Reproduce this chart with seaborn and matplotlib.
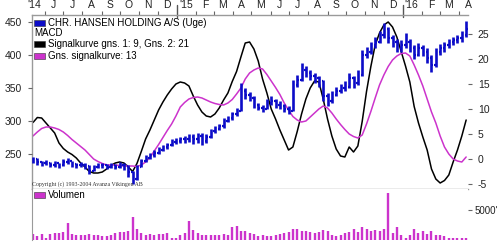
import numpy as np
import pandas as pd
import matplotlib
matplotlib.use("Agg")
import matplotlib.pyplot as plt
import matplotlib.transforms as mtransforms
from matplotlib.patches import Rectangle
import seaborn as sns

# ---------------- data (weekly) ----------------
start_date = "2014-05-13"
close = [242, 238, 236, 237, 234, 236, 233, 238, 240, 235,
         233, 234, 232, 225, 230, 234, 233, 231, 233, 231,
         234, 232, 222, 212, 230, 240, 244, 248, 252, 256,
         260, 263, 268, 270, 272, 273, 276, 272, 278, 270,
         276, 285, 288, 292, 300, 304, 310, 315, 345, 340,
         335, 325, 320, 318, 328, 330, 325, 322, 318, 315,
         355, 362, 378, 372, 368, 365, 360, 338, 330, 340,
         345, 350, 352, 365, 358, 370, 400, 405, 415, 420,
         430, 440, 425, 420, 410, 415, 420, 410, 400, 410,
         405, 395, 385, 405, 410, 415, 420, 422, 425, 430, 440]
low = [236, 234, 232, 233, 230, 231, 229, 232, 235, 231,
       229, 230, 228, 220, 224, 229, 229, 227, 229, 227,
       229, 226, 215, 205, 210, 230, 238, 242, 246, 250,
       254, 257, 262, 265, 266, 267, 268, 265, 266, 264,
       266, 274, 282, 286, 290, 298, 302, 308, 315, 334,
       330, 320, 316, 314, 318, 324, 320, 318, 314, 310,
       315, 352, 360, 366, 362, 358, 352, 330, 322, 328,
       338, 342, 346, 350, 350, 355, 368, 396, 402, 410,
       418, 425, 418, 412, 404, 405, 410, 404, 394, 398,
       398, 388, 375, 382, 400, 405, 410, 415, 418, 420, 428]
high = [246, 244, 240, 241, 238, 240, 237, 242, 244, 240,
        237, 238, 236, 233, 234, 237, 237, 235, 237, 235,
        238, 236, 233, 225, 234, 243, 248, 252, 256, 260,
        264, 267, 272, 274, 276, 277, 280, 280, 282, 282,
        280, 288, 292, 296, 304, 308, 314, 320, 358, 350,
        344, 338, 328, 324, 334, 338, 333, 330, 326, 322,
        362, 370, 388, 384, 378, 372, 368, 362, 342, 346,
        352, 356, 360, 372, 368, 378, 408, 412, 420, 428,
        436, 448, 442, 430, 424, 422, 433, 424, 415, 418,
        415, 410, 400, 410, 416, 420, 424, 428, 430, 436, 452]
macd = [7.3, 8.3, 8.2, 7.2, 6.2, 5.2, 3.2, 2.1, 1.4, 0.9,
        0.2, -0.8, -1.6, -2.5, -2.8, -2.8, -2.6, -2.0, -1.3, -0.8,
        -0.6, -0.8, -1.6, -2.5, -0.9, 1.5, 4.0, 5.8, 7.8, 9.8,
        11.4, 12.8, 14.0, 15.0, 15.4, 15.2, 14.6, 12.6, 10.8, 9.4,
        8.6, 8.4, 9.0, 10.2, 11.8, 13.2, 15.5, 17.5, 20.4, 23.2,
        23.4, 22.0, 19.6, 16.0, 13.2, 10.0, 8.0, 5.8, 3.8, 1.8,
        2.4, 5.5, 9.0, 12.0, 14.2, 15.6, 15.4, 12.0, 8.0, 4.6,
        2.0, 0.6, 0.4, 2.4, 1.4, 2.6, 7.5, 13.5, 18.5, 22.8,
        25.2, 26.8, 27.4, 26.4, 24.4, 21.5, 18.6, 15.4, 10.5, 7.2,
        4.4, 1.8, -2.0, -4.0, -4.8, -4.3, -3.2, -0.6, 1.8, 4.6, 7.8]
signal = [4.6, 5.4, 6.1, 6.4, 6.4, 6.2, 5.9, 5.4, 4.7, 3.9,
          3.2, 2.5, 1.8, 0.9, 0.0, -0.5, -0.9, -1.2, -1.2, -1.2,
          -1.3, -1.4, -1.4, -1.4, -1.5, -1.2, -0.6, 0.3, 1.6, 2.9,
          4.3, 5.7, 7.0, 8.6, 10.4, 11.3, 12.0, 12.3, 12.4, 12.2,
          11.8, 11.4, 11.1, 10.9, 10.8, 11.2, 11.9, 13.0, 14.2, 16.0,
          17.2, 17.8, 18.2, 18.0, 16.9, 15.6, 14.3, 12.9, 11.2, 9.8,
          8.5, 7.8, 7.4, 7.6, 8.4, 9.2, 10.0, 10.6, 10.2, 9.2,
          8.0, 6.9, 5.9, 5.0, 4.5, 4.2, 4.8, 7.0, 9.5, 12.2,
          14.8, 16.8, 18.5, 19.8, 20.6, 21.1, 21.2, 20.6, 18.8, 16.8,
          14.6, 12.0, 9.4, 7.2, 4.6, 2.4, 1.0, 0.0, -0.4, -0.6, 0.4]
volume = [1000, 600, 1000, 300, 1000, 1200, 1200, 1300, 2800, 1000,
          900, 800, 900, 1000, 800, 900, 600, 600, 900, 1200,
          1300, 1300, 1500, 3900, 1900, 1200, 900, 1000, 900, 1000,
          1000, 1200, 300, 300, 900, 1200, 3100, 1600, 1200, 900,
          900, 900, 900, 900, 1000, 900, 2100, 2400, 1500, 1500,
          1200, 1000, 600, 900, 600, 700, 900, 1000, 1200, 1300,
          1900, 1800, 1500, 1500, 1300, 1200, 1300, 1600, 1500, 900,
          600, 900, 1200, 1300, 1800, 1300, 2100, 1800, 1500, 1600,
          1500, 1800, 7900, 1200, 2100, 900, 300, 900, 1900, 1200,
          1500, 1000, 1500, 900, 800, 600, 400, 300, 300, 300, 300]
month_labels = ["'14", "J", "J", "A", "S", "O", "N", "D", "'15", "F", "M", "A",
                "M", "J", "J", "A", "S", "O", "N", "D", "'16", "F", "M", "A"]
price_ticks = [250, 300, 350, 400, 450]
macd_ticks = [-5, 0, 5, 10, 15, 20, 25]
legend_labels = ["CHR. HANSEN HOLDING A/S (Uge)", "MACD",
                 "Signalkurve gns. 1: 9, Gns. 2: 21", "Gns. signalkurve: 13"]

# ---------------- style ----------------
sns.set_style("white")
plt.rcParams["font.family"] = ["Liberation Sans", "DejaVu Sans"]

BLUE = "#0c0cc8"
MAG = "#cc33cc"
GRAY = "#9a9a9a"
TXT = "#222222"

dates = pd.date_range(start_date, periods=len(close), freq="7D")
df = pd.DataFrame({"date": dates, "close": close, "low": low, "high": high,
                   "macd": macd, "signal": signal, "volume": volume})

W, H = 500, 242
def frame(x0, y0, x1, y1):
    return [x0 / W, 1 - y1 / H, (x1 - x0) / W, (y1 - y0) / H]

fig = plt.figure(figsize=(W / 100, H / 100), dpi=100)
ax = fig.add_axes(frame(32, 15, 468, 189))      # MACD (right axis)
axp = ax.twinx()                                 # price (left axis)
axv = fig.add_axes(frame(32, 189, 468, 240), sharex=ax)

# MACD lines
sns.lineplot(data=df, x="date", y="macd", ax=ax, color="black", lw=1.1)
sns.lineplot(data=df, x="date", y="signal", ax=ax, color=MAG, lw=1.1)
ax.set_ylim(-6.0, 28.8)
ax.yaxis.tick_right()
ax.set_yticks(macd_ticks)
ax.set_yticklabels([str(t) for t in macd_ticks])
ax.set_xlabel("")
ax.set_ylabel("")

# price bars
tick = pd.Timedelta(days=2.4)
axp.vlines(df["date"], df["low"], df["high"], color=BLUE, lw=1.9)
axp.hlines(df["close"], df["date"], df["date"] + tick, color=BLUE, lw=1.6)
axp.hlines(df["close"].iloc[:-1].values, df["date"].iloc[1:] - tick,
           df["date"].iloc[1:], color=BLUE, lw=1.6)
axp.set_ylim(197, 460.6)
axp.yaxis.tick_left()
axp.set_yticks(price_ticks)
axp.set_yticklabels([str(t) for t in price_ticks])
axp.set_ylabel("")

ax.set_xlim(dates[0] - pd.Timedelta(days=1.6), dates[-1] + pd.Timedelta(days=1.6))

# month ticks along the top
ms = pd.date_range("2014-06-01", "2016-04-01", freq="MS")
ax.xaxis.tick_top()
ax.set_xticks([d for d in ms if d.month != 1])
ax.set_xticklabels([])
mids = pd.date_range("2014-05-01", "2016-04-01", freq="MS") + pd.Timedelta(days=14)
ax.set_xticks(mids, minor=True)
ax.set_xticklabels(month_labels, minor=True)
ax.tick_params(axis="x", which="major", length=3, width=0.8, color="#666666",
               direction="out")
ax.tick_params(axis="x", which="minor", length=0, pad=3.5, labelsize=7.5,
               labelcolor=TXT)
trans = mtransforms.blended_transform_factory(ax.transData, ax.transAxes)
for d in ["2015-01-01", "2016-01-01"]:
    ax.plot([pd.Timestamp(d)] * 2, [1 - 2 / 174, 1 + 10 / 174], transform=trans,
            color="#555555", lw=1.0, clip_on=False)

ax.tick_params(axis="y", length=3, width=0.8, color="#666666", labelsize=7.5,
               labelcolor=TXT, pad=4)
axp.tick_params(axis="y", length=3, width=0.8, color="#666666", labelsize=7.5,
                labelcolor=TXT, pad=4)
axp.tick_params(axis="x", which="both", top=False, bottom=False,
                labeltop=False, labelbottom=False)

for s in axp.spines.values():
    s.set_visible(False)
ax.spines["right"].set_visible(False)
for k in ["left", "top", "bottom"]:
    ax.spines[k].set_color(GRAY)
    ax.spines[k].set_linewidth(1.0)

# volume
axv.vlines(df["date"], 0, df["volume"], color=MAG, lw=1.7)
axv.set_ylim(0, 8500)
axv.yaxis.tick_right()
axv.set_yticks([5000])
axv.set_yticklabels(["5000'"])
axv.tick_params(axis="y", length=3, width=0.8, color="#666666", labelsize=7,
                labelcolor=TXT, pad=2)
axv.tick_params(axis="x", which="both", top=False, bottom=False,
                labeltop=False, labelbottom=False)
for k in ["right", "top", "bottom"]:
    axv.spines[k].set_visible(False)
axv.spines["left"].set_color(GRAY)

# legend (drawn as text/patches in pixel coordinates)
def px(x, y):
    return x / W, 1 - y / H

rows = [(legend_labels[0], BLUE, 22.7), (legend_labels[1], None, 33.3),
        (legend_labels[2], "black", 44.3), (legend_labels[3], MAG, 55.7)]
for label, col, yc in rows:
    if col is not None:
        x0, y0 = px(34, yc + 3)
        fig.patches.append(Rectangle((x0, y0), 11 / W, 6 / H, transform=fig.transFigure,
                                     facecolor=col, edgecolor="#333333", lw=0.4))
        fig.text(*px(48, yc), label, fontsize=7, color="black", va="center", ha="left")
    else:
        fig.text(*px(34, yc), label, fontsize=7, color="black", va="center", ha="left")

x0, y0 = px(34, 198)
fig.patches.append(Rectangle((x0, y0), 11 / W, 6 / H, transform=fig.transFigure,
                             facecolor=MAG, edgecolor="#333333", lw=0.4))
fig.text(*px(48, 195), "Volumen", fontsize=7, color="black", va="center", ha="left")

fig.text(*px(32, 184), "Copyright (c) 1993-2004 Avanza Vikingen AB", fontsize=4.2,
         family=["Liberation Serif", "DejaVu Serif"], color="#333333",
         va="center", ha="left")

fig.savefig("out.png", dpi=100, facecolor="white")
